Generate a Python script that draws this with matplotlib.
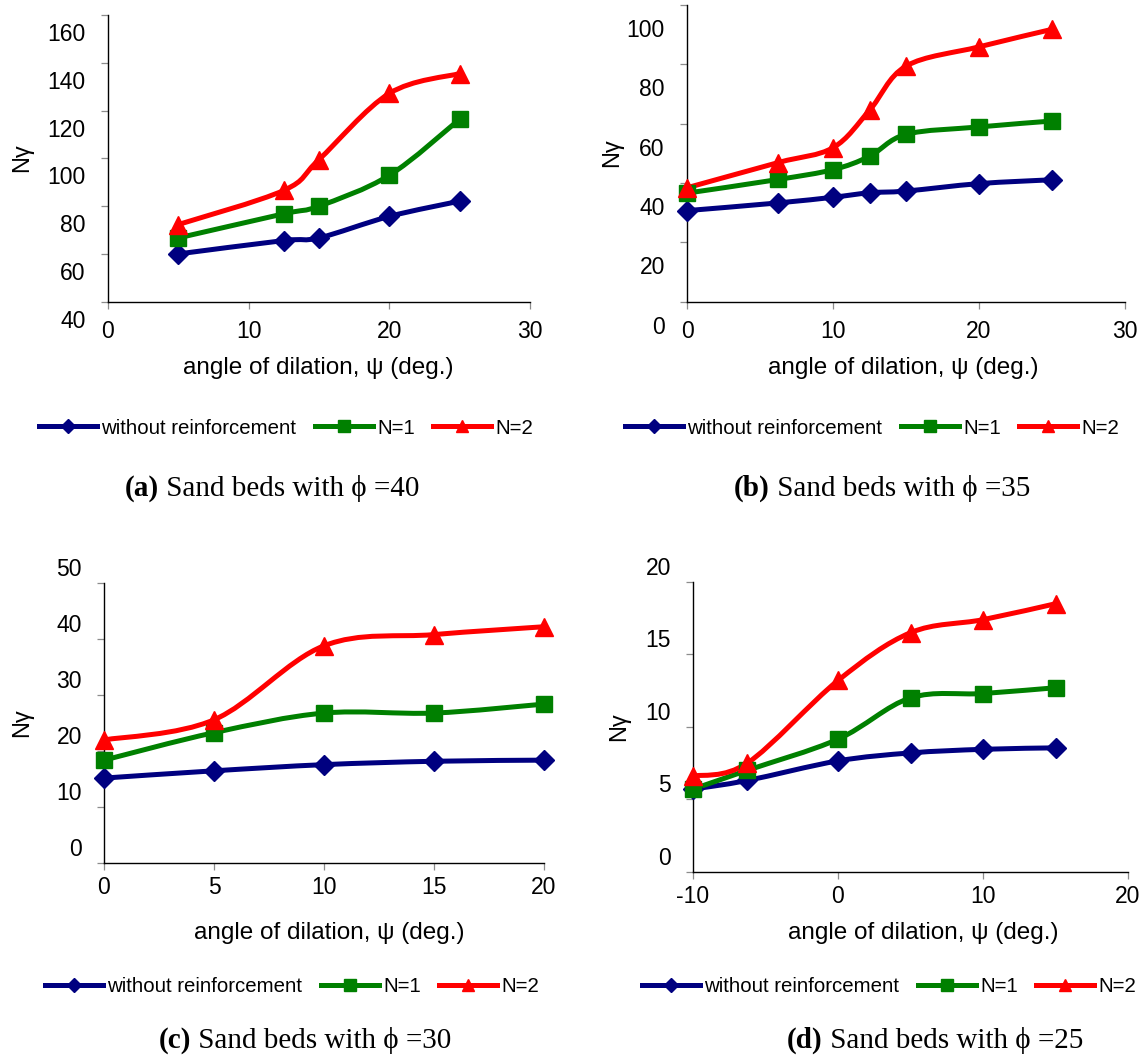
import matplotlib
matplotlib.use("Agg")
import matplotlib.pyplot as plt
import matplotlib.transforms as mtransforms
from matplotlib.path import Path
from matplotlib.patches import PathPatch
from matplotlib.lines import Line2D

W, H = 1148, 1058
plt.rcParams['font.family'] = ['Liberation Sans', 'DejaVu Sans']
plt.rcParams['axes.unicode_minus'] = False

# (a) phi = 40
psi_a = [5, 12.5, 15, 20, 25]
a_none = [60.0, 65.6, 66.7, 75.7, 82.1]
a_n1 = [66.7, 76.8, 80.0, 92.9, 116.4]
a_n2 = [72.3, 86.6, 99.5, 127.2, 135.5]

# (b) phi = 35
psi_b = [0, 6.25, 10, 12.5, 15, 20, 25]
b_none = [30.7, 33.3, 35.2, 36.7, 37.3, 39.8, 41.1]
b_n1 = [36.6, 41.2, 44.5, 49.0, 56.4, 58.9, 60.9]
b_n2 = [38.4, 46.9, 51.9, 64.5, 79.4, 85.9, 91.8]

# (c) phi = 30
psi_c = [0, 5, 10, 15, 20]
c_none = [15.2, 16.5, 17.6, 18.2, 18.4]
c_n1 = [18.4, 23.3, 26.8, 26.8, 28.4]
c_n2 = [22.0, 25.6, 38.8, 40.8, 42.2]

# (d) phi = 25
psi_d = [-10, -6.25, 0, 5, 10, 15]
d_none = [5.7, 6.3, 7.65, 8.2, 8.45, 8.55]
d_n1 = [5.7, 7.0, 9.15, 12.0, 12.3, 12.7]
d_n2 = [6.6, 7.5, 13.2, 16.5, 17.4, 18.5]

series_names = ["without reinforcement", "N=1", "N=2"]
colors = ["#000080", "#008000", "#FF0000"]
markers = ["D", "s", "^"]
msizes = [10, 12, 13]
leg_msizes = [7, 8.5, 9]


def px(x, y):
    return x / W, 1 - y / H


def smooth_path(xs, ys):
    # Excel-style smoothed line: cubic Bezier through every point
    verts = [(xs[0], ys[0])]
    codes = [Path.MOVETO]
    n = len(xs)
    for i in range(n - 1):
        x0, y0 = (xs[i - 1], ys[i - 1]) if i > 0 else (xs[i], ys[i])
        x1, y1 = xs[i], ys[i]
        x2, y2 = xs[i + 1], ys[i + 1]
        x3, y3 = (xs[i + 2], ys[i + 2]) if i + 2 < n else (x2, y2)
        c1 = (x1 + (x2 - x0) / 6, y1 + (y2 - y0) / 6)
        c2 = (x2 - (x3 - x1) / 6, y2 - (y3 - y1) / 6)
        verts += [c1, c2, (x2, y2)]
        codes += [Path.CURVE4] * 3
    return Path(verts, codes)


panels = [
    dict(rect=(108, 15, 530, 301.7), x=psi_a, ys=[a_none, a_n1, a_n2],
         xlim=(0, 30), xt=[0, 10, 20, 30], ylim=(40, 160), yt=range(40, 161, 20),
         ydy=17, xpad=8, ylab=(22, 158), xlab=(318, 368), leg=(286, 428),
         cap=(272, 488), letter="(a)", phi="40"),
    dict(rect=(687, 5, 1125, 301.7), x=psi_b, ys=[b_none, b_n1, b_n2],
         xlim=(0, 30), xt=[0, 10, 20, 30], ylim=(0, 100), yt=range(0, 101, 20),
         ydy=23, xpad=8, ylab=(612, 153), xlab=(903, 368), leg=(872, 428),
         cap=(882, 488), letter="(b)", phi="35"),
    dict(rect=(104, 583, 544, 863.3), x=psi_c, ys=[c_none, c_n1, c_n2],
         xlim=(0, 20), xt=[0, 5, 10, 15, 20], ylim=(0, 50), yt=range(0, 51, 10),
         ydy=-16, xpad=4.5, ylab=(22, 723), xlab=(329, 933), leg=(292, 987),
         cap=(305, 1040), letter="(c)", phi="30"),
    dict(rect=(693, 582, 1128, 871.7), x=psi_d, ys=[d_none, d_n1, d_n2],
         xlim=(-10, 20), xt=[-10, 0, 10, 20], ylim=(0, 20), yt=range(0, 21, 5),
         ydy=-16, xpad=4.5, ylab=(619, 727), xlab=(923, 933), leg=(889, 987),
         cap=(935, 1040), letter="(d)", phi="25"),
]

fig = plt.figure(figsize=(W / 100, H / 100), dpi=100)

for p in panels:
    x0, y0, x1, y1 = p["rect"]
    ax = fig.add_axes([x0 / W, 1 - y1 / H, (x1 - x0) / W, (y1 - y0) / H])
    ax.set_xlim(*p["xlim"])
    ax.set_ylim(*p["ylim"])
    ax.set_xticks(p["xt"])
    ax.set_yticks(list(p["yt"]))
    for s in ["top", "right"]:
        ax.spines[s].set_visible(False)
    for s in ["left", "bottom"]:
        ax.spines[s].set_linewidth(1.0)
    ax.tick_params(axis="both", direction="out", length=5, width=0.9,
                   color="#8c8c8c", labelcolor="black", labelsize=16.5)
    ax.tick_params(axis="y", pad=11)
    ax.tick_params(axis="x", pad=p["xpad"])
    ax.patch.set_visible(False)

    for ys, c, m, ms in zip(p["ys"], colors, markers, msizes):
        ax.add_patch(PathPatch(smooth_path(p["x"], ys), fill=False,
                               edgecolor=c, lw=3.6, capstyle="round",
                               joinstyle="round", zorder=2))
        ax.plot(p["x"], ys, ls="none", marker=m, ms=ms, color=c, zorder=3,
                clip_on=False)

    # tick labels sit off their ticks in the source figure
    off = mtransforms.ScaledTranslation(0, -p["ydy"] / 100, fig.dpi_scale_trans)
    for lbl in ax.get_yticklabels():
        lbl.set_transform(lbl.get_transform() + off)

    fx, fy = px(*p["xlab"])
    fig.text(fx, fy, "angle of dilation, ψ (deg.)", ha="center", va="center",
             fontsize=17.5)
    fx, fy = px(*p["ylab"])
    fig.text(fx, fy, "Nγ", rotation=90, ha="center", va="center", fontsize=17)

    handles = [Line2D([], [], color=c, lw=3.6, marker=m, ms=lm)
               for c, m, lm in zip(colors, markers, leg_msizes)]
    fx, fy = px(*p["leg"])
    fig.legend(handles, series_names, loc="center", bbox_to_anchor=(fx, fy),
               ncol=3, frameon=False, fontsize=14.7, handlelength=2.85,
               handletextpad=0.2, columnspacing=0.9, borderaxespad=0)

    fx, fy = px(*p["cap"])
    t1 = fig.text(fx, fy, p["letter"], ha="left", va="center", fontsize=21,
                  fontweight="bold", family=["Liberation Serif", "DejaVu Serif"])
    t2 = fig.text(fx, fy, " Sand beds with ϕ =" + p["phi"], ha="left",
                  va="center", fontsize=21,
                  family=["Liberation Serif", "DejaVu Serif"])
    # center the caption as a whole
    fig.canvas.draw()
    r = fig.canvas.get_renderer()
    w1 = t1.get_window_extent(r).width
    w2 = t2.get_window_extent(r).width
    start = p["cap"][0] - (w1 + w2) / 2
    t1.set_position(px(start, p["cap"][1]))
    t2.set_position(px(start + w1, p["cap"][1]))

fig.savefig("out.png", dpi=100)
